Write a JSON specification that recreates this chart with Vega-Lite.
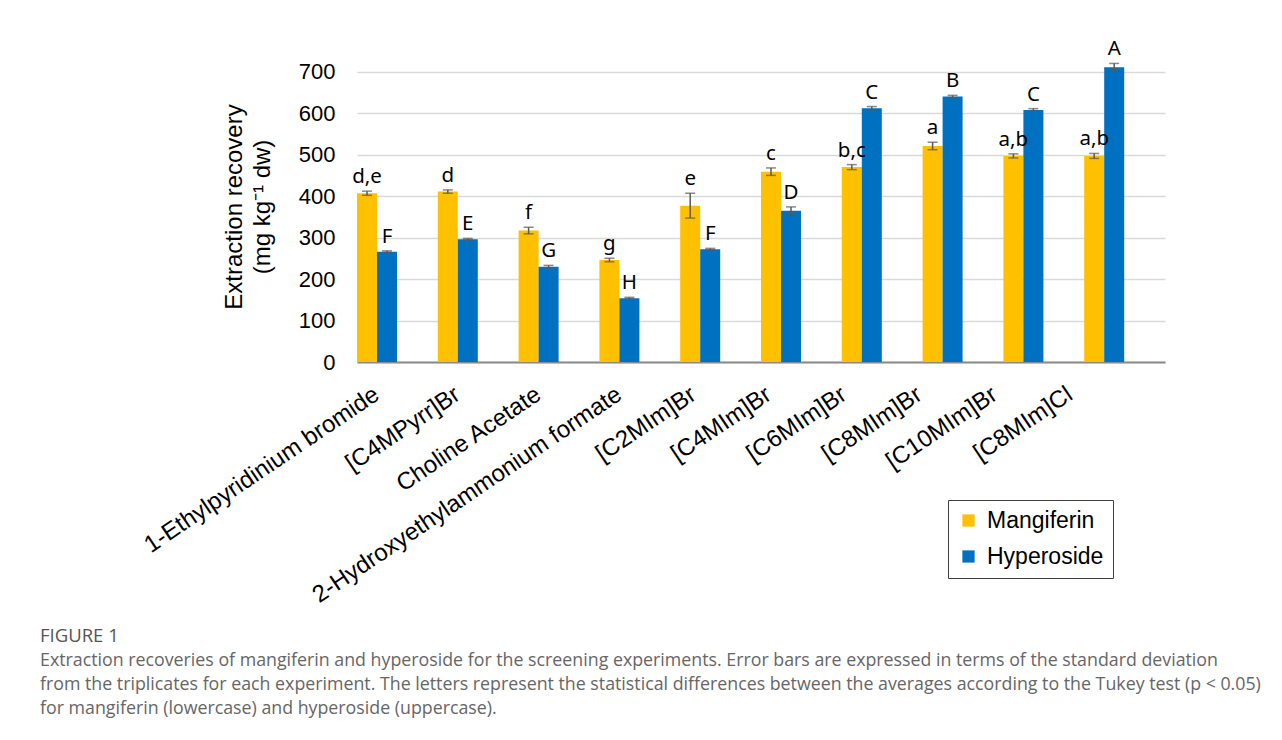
{
  "$schema": "https://vega.github.io/schema/vega-lite/v6.json",
  "autosize": {"type": "none"},
  "padding": {"left": 357, "top": 51, "right": 117, "bottom": 378},
  "width": 808,
  "height": 311,
  "background": "white",
  "config": {"view": {"stroke": null}},
  "title": {
    "text": "FIGURE 1",
    "subtitle": [
      "Extraction recoveries of mangiferin and hyperoside for the screening experiments. Error bars are expressed in terms of the standard deviation",
      "from the triplicates for each experiment. The letters represent the statistical differences between the averages according to the Tukey test (p < 0.05)",
      "for mangiferin (lowercase) and hyperoside (uppercase)."
    ],
    "orient": "bottom",
    "anchor": "start",
    "frame": "group",
    "dx": -317,
    "offset": 20,
    "font": "Open Sans",
    "fontSize": 18.5,
    "fontWeight": "normal",
    "color": "#555555",
    "subtitleFont": "Open Sans",
    "subtitleFontSize": 17.8,
    "subtitleColor": "#666666",
    "subtitleLineHeight": 24,
    "subtitlePadding": 6
  },
  "data": {
    "values": [
      {"solvent": "1-Ethylpyridinium bromide", "compound": "Mangiferin", "value": 407, "low": 402, "high": 412, "letter": "d,e"},
      {"solvent": "[C4MPyrr]Br", "compound": "Mangiferin", "value": 411, "low": 407, "high": 415, "letter": "d"},
      {"solvent": "Choline Acetate", "compound": "Mangiferin", "value": 317, "low": 309, "high": 325, "letter": "f"},
      {"solvent": "2-Hydroxyethylammonium formate", "compound": "Mangiferin", "value": 246, "low": 242, "high": 250, "letter": "g"},
      {"solvent": "[C2MIm]Br", "compound": "Mangiferin", "value": 377, "low": 347, "high": 407, "letter": "e"},
      {"solvent": "[C4MIm]Br", "compound": "Mangiferin", "value": 459, "low": 450, "high": 468, "letter": "c"},
      {"solvent": "[C6MIm]Br", "compound": "Mangiferin", "value": 470, "low": 464, "high": 476, "letter": "b,c"},
      {"solvent": "[C8MIm]Br", "compound": "Mangiferin", "value": 521, "low": 512, "high": 530, "letter": "a"},
      {"solvent": "[C10MIm]Br", "compound": "Mangiferin", "value": 497, "low": 492, "high": 502, "letter": "a,b"},
      {"solvent": "[C8MIm]Cl", "compound": "Mangiferin", "value": 497, "low": 491, "high": 503, "letter": "a,b"},
      {"solvent": "1-Ethylpyridinium bromide", "compound": "Hyperoside", "value": 266, "low": 264, "high": 268, "letter": "F"},
      {"solvent": "[C4MPyrr]Br", "compound": "Hyperoside", "value": 296, "low": 294, "high": 298, "letter": "E"},
      {"solvent": "Choline Acetate", "compound": "Hyperoside", "value": 230, "low": 227, "high": 233, "letter": "G"},
      {"solvent": "2-Hydroxyethylammonium formate", "compound": "Hyperoside", "value": 154, "low": 152, "high": 156, "letter": "H"},
      {"solvent": "[C2MIm]Br", "compound": "Hyperoside", "value": 272, "low": 270, "high": 274, "letter": "F"},
      {"solvent": "[C4MIm]Br", "compound": "Hyperoside", "value": 365, "low": 356, "high": 374, "letter": "D"},
      {"solvent": "[C6MIm]Br", "compound": "Hyperoside", "value": 612, "low": 608, "high": 616, "letter": "C"},
      {"solvent": "[C8MIm]Br", "compound": "Hyperoside", "value": 640, "low": 637, "high": 643, "letter": "B"},
      {"solvent": "[C10MIm]Br", "compound": "Hyperoside", "value": 608, "low": 605, "high": 611, "letter": "C"},
      {"solvent": "[C8MIm]Cl", "compound": "Hyperoside", "value": 711, "low": 702, "high": 720, "letter": "A"}
    ]
  },
  "encoding": {
    "x": {
      "field": "solvent",
      "type": "nominal",
      "sort": null,
      "scale": {"paddingInner": 0.505, "paddingOuter": 0.2525, "align": 0},
      "axis": {
        "title": null,
        "ticks": false,
        "domainColor": "#8a8a8a",
        "domainWidth": 2,
        "labelAngle": -34,
        "labelAlign": "right",
        "labelBaseline": "middle",
        "labelFont": "Liberation Sans",
        "labelFontSize": 24,
        "labelColor": "#000000",
        "labelPadding": 30,
        "labelLimit": 600,
        "labelOffset": {"expr": "round(datum.index * 9) <= 3 ? 0 : -1 - 5.5 * (round(datum.index * 9) - 3)"}
      }
    },
    "xOffset": {"field": "compound", "sort": ["Mangiferin", "Hyperoside"], "scale": {"paddingInner": 0}}
  },
  "layer": [
    {
      "mark": {"type": "bar"},
      "encoding": {
        "y": {
          "field": "value",
          "type": "quantitative",
          "scale": {"domain": [0, 750], "nice": false},
          "axis": {
            "values": [0, 100, 200, 300, 400, 500, 600, 700],
            "title": ["Extraction recovery", "(mg kg⁻¹ dw)"],
            "titleFont": "Liberation Sans",
            "titleFontSize": 24,
            "titleFontWeight": "normal",
            "titleColor": "#000000",
            "titleLineHeight": 28,
            "titlePadding": 24,
            "domain": false,
            "ticks": false,
            "grid": true,
            "gridColor": "#d9d9d9",
            "gridWidth": 1.5,
            "labelFont": "Liberation Sans",
            "labelFontSize": 22,
            "labelColor": "#000000",
            "labelPadding": 22
          }
        },
        "color": {
          "field": "compound",
          "type": "nominal",
          "sort": ["Mangiferin", "Hyperoside"],
          "scale": {"domain": ["Mangiferin", "Hyperoside"], "range": ["#FFC000", "#0070C0"]},
          "legend": {
            "orient": "none",
            "legendX": 591,
            "legendY": 449,
            "title": null,
            "strokeColor": "#404040",
            "padding": 9,
            "symbolType": "square",
            "symbolSize": 150,
            "symbolStrokeWidth": 0,
            "labelFont": "Liberation Sans",
            "labelFontSize": 23,
            "labelColor": "#000000",
            "labelOffset": 7,
            "rowPadding": 12
          }
        }
      }
    },
    {
      "mark": {"type": "rule", "color": "#595959", "strokeWidth": 1.5},
      "encoding": {
        "y": {"field": "low", "type": "quantitative"},
        "y2": {"field": "high"}
      }
    },
    {
      "mark": {"type": "tick", "orient": "horizontal", "size": 10, "thickness": 1.5, "color": "#595959"},
      "encoding": {"y": {"field": "low", "type": "quantitative"}}
    },
    {
      "mark": {"type": "tick", "orient": "horizontal", "size": 10, "thickness": 1.5, "color": "#595959"},
      "encoding": {"y": {"field": "high", "type": "quantitative"}}
    },
    {
      "mark": {"type": "text", "font": "Noto Sans", "fontSize": 20.5, "color": "#000000", "baseline": "alphabetic", "dy": -8},
      "encoding": {
        "y": {"field": "high", "type": "quantitative"},
        "text": {"field": "letter"}
      }
    }
  ]
}
